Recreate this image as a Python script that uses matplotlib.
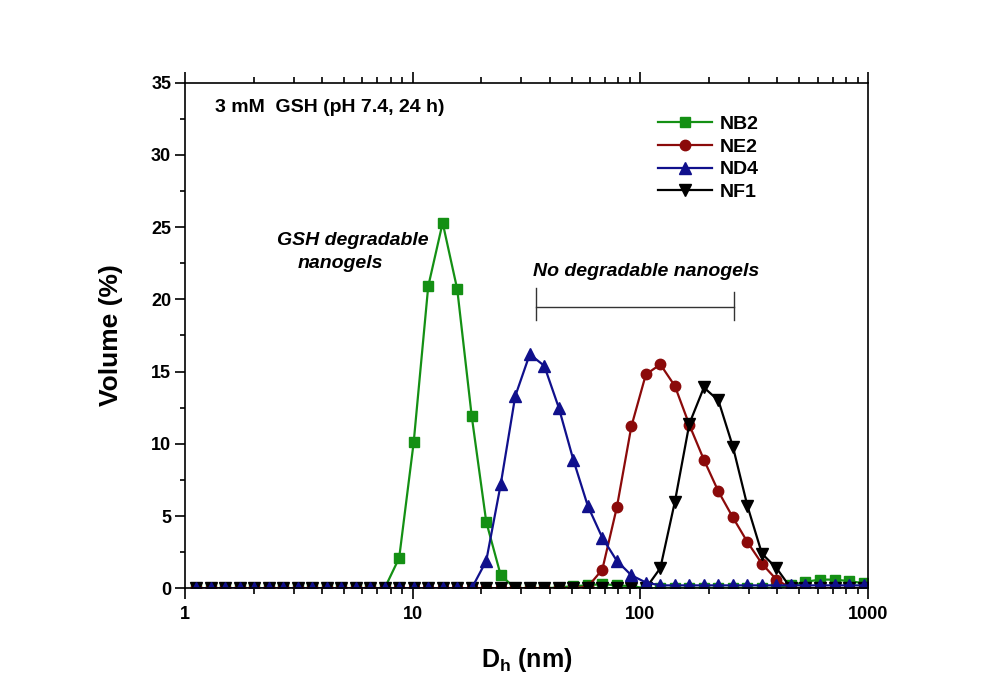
import matplotlib
matplotlib.use('Agg')
import matplotlib.pyplot as plt
from matplotlib.ticker import LogLocator, MultipleLocator, NullFormatter, FixedLocator

plt.rcParams['font.family'] = ['Liberation Sans', 'DejaVu Sans']
plt.rcParams['font.weight'] = 'bold'

# Size classes (nm), DLS bins
size_nm = [1.117, 1.294, 1.499, 1.736, 2.010, 2.328, 2.696, 3.122, 3.615, 4.187,
           4.849, 5.615, 6.503, 7.531, 8.721, 10.10, 11.70, 13.54, 15.69, 18.17,
           21.04, 24.36, 28.21, 32.67, 37.84, 43.82, 50.75, 58.77, 68.06, 78.82,
           91.28, 105.7, 122.4, 141.8, 164.2, 190.1, 220.2, 255.0, 295.3, 342.0,
           396.1, 458.7, 531.2, 615.1, 712.4, 825.0, 955.4]

# Volume (%) per series
nb2 = [0, 0, 0, 0, 0, 0, 0, 0, 0, 0,
       0, 0, 0, 0, 2.1, 10.1, 20.9, 25.3, 20.7, 11.9,
       4.6, 0.9, 0, 0, 0, 0.05, 0.15, 0.2, 0.3, 0.2,
       0.15, 0, 0, 0, 0, 0, 0, 0, 0, 0,
       0, 0.2, 0.45, 0.6, 0.6, 0.5, 0.35]
ne2 = [0, 0, 0, 0, 0, 0, 0, 0, 0, 0,
       0, 0, 0, 0, 0, 0, 0, 0, 0, 0,
       0, 0, 0, 0, 0, 0, 0, 0.1, 1.3, 5.6,
       11.2, 14.8, 15.5, 14.0, 11.3, 8.9, 6.7, 4.9, 3.2, 1.7,
       0.6, 0, 0, 0, 0, 0, 0]
nd4 = [0, 0, 0, 0, 0, 0, 0, 0, 0, 0,
       0, 0, 0, 0, 0, 0, 0, 0, 0, 0,
       1.9, 7.2, 13.3, 16.2, 15.4, 12.5, 8.9, 5.7, 3.5, 1.9,
       0.9, 0.4, 0.2, 0.2, 0.2, 0.2, 0.2, 0.2, 0.2, 0.2,
       0.2, 0.2, 0.2, 0.2, 0.2, 0.2, 0.2]
nf1 = [0, 0, 0, 0, 0, 0, 0, 0, 0, 0,
       0, 0, 0, 0, 0, 0, 0, 0, 0, 0,
       0, 0, 0, 0, 0, 0, 0, 0, 0, 0,
       0, 0, 1.4, 6.0, 11.4, 13.9, 13.0, 9.8, 5.7, 2.4,
       1.4, 0, 0, 0, 0, 0, 0]

fig = plt.figure(figsize=(9.9, 7.0), dpi=100)
ax = fig.add_axes([0.1869, 0.1596, 0.6899, 0.7223])

ax.plot(size_nm, nb2, color='#149014', marker='s', ms=7, lw=1.6, label='NB2', zorder=2.0)
ax.plot(size_nm, ne2, color='#8B0A0A', marker='o', ms=7.5, lw=1.6, label='NE2', zorder=2.1)
ax.plot(size_nm, nd4, color='#10108C', marker='^', ms=8, lw=1.6, label='ND4', zorder=2.3)
ax.plot(size_nm, nf1, color='black', marker='v', ms=8, lw=1.6, label='NF1', zorder=2.2)

ax.set_xscale('log')
ax.set_xlim(1, 1000)
ax.set_ylim(0, 35)
ax.xaxis.set_major_locator(FixedLocator([1, 10, 100, 1000]))
ax.xaxis.set_major_formatter(plt.FuncFormatter(lambda v, p: '%d' % v))
ax.xaxis.set_minor_locator(LogLocator(base=10, subs=range(2, 10)))
ax.xaxis.set_minor_formatter(NullFormatter())
ax.yaxis.set_major_locator(MultipleLocator(5))
ax.yaxis.set_minor_locator(MultipleLocator(2.5))

for s in ax.spines.values():
    s.set_linewidth(1.2)
ax.tick_params(axis='x', which='major', direction='out', length=8, width=1.2,
               top=True, labelsize=13, pad=5)
ax.tick_params(axis='x', which='minor', direction='out', length=4.5, width=1.2, top=True)
ax.tick_params(axis='y', which='major', direction='out', length=7, width=1.2,
               right=False, labelsize=13, pad=3)
ax.tick_params(axis='y', which='minor', direction='out', length=3.6, width=1.2, right=False)
for lab in ax.get_xticklabels() + ax.get_yticklabels():
    lab.set_fontweight('bold')

ax.set_xlabel(r'D$_\mathregular{h}$ (nm)', fontsize=18, fontweight='bold', labelpad=16)
ax.set_ylabel('Volume (%)', fontsize=19, fontweight='bold', labelpad=20)

ax.text(0.044, 0.95, '3 mM  GSH (pH 7.4, 24 h)', transform=ax.transAxes,
        fontsize=14, fontweight='bold', va='center', ha='left')
ax.text(2.54, 24.1, 'GSH degradable', fontsize=14, fontweight='bold',
        style='italic', va='center', ha='left')
ax.text(3.14, 22.5, 'nanogels', fontsize=14, fontweight='bold',
        style='italic', va='center', ha='left')
ax.text(33.8, 21.9, 'No degradable nanogels', fontsize=14, fontweight='bold',
        style='italic', va='center', ha='left')

# bracket over the non-degradable group
ax.plot([34.8, 257.7], [19.5, 19.5], color='#333333', lw=1.0)
ax.plot([34.8, 34.8], [18.6, 20.8], color='#333333', lw=1.0)
ax.plot([257.7, 257.7], [18.6, 20.5], color='#333333', lw=1.0)

leg = ax.legend(loc='upper left', bbox_to_anchor=(0.6925, 0.936), frameon=False,
                fontsize=14, handlelength=2.8, handletextpad=0.4, labelspacing=0.27,
                borderpad=0, borderaxespad=0)
for t in leg.get_texts():
    t.set_fontweight('bold')

fig.savefig('out.png', dpi=100)
